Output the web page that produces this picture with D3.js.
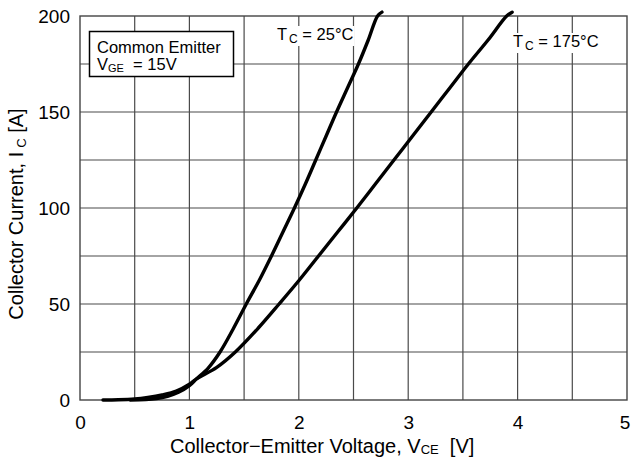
<!DOCTYPE html>
<html><head><meta charset="utf-8">
<script src="https://cdn.jsdelivr.net/npm/d3@7"></script>
<style>
html,body{margin:0;padding:0;background:#fff;}
svg text{font-family:"Liberation Sans",Arial,Helvetica,sans-serif;fill:#000;}
</style></head>
<body>
<svg id="chart" width="631" height="464"></svg>
<script>
// Data
const xTicks = [0, 1, 2, 3, 4, 5];
const yTicks = [0, 50, 100, 150, 200];
const xGrid = [0.5, 1, 1.5, 2, 2.5, 3, 3.5, 4, 4.5];
const yGrid = [25, 50, 75, 100, 125, 150, 175];

const t25V = [0.46, 0.6, 0.7, 0.8, 0.9, 1.0, 1.065, 1.17, 1.28, 1.4, 1.52, 1.64, 1.75, 1.855, 1.96, 2.06, 2.155, 2.25, 2.345, 2.445, 2.545, 2.635, 2.72, 2.76];
const t25I = [0, 0.2, 0.7, 1.9, 4.0, 7.5, 11, 16.5, 25, 37, 50, 62.5, 75, 87.5, 100, 112.5, 125, 137.5, 150, 162.5, 175, 187.5, 200, 202];

const t175V = [0.21, 0.35, 0.5, 0.62, 0.75, 0.88, 1.0, 1.065, 1.25, 1.42, 1.63, 1.82, 2.005, 2.18, 2.355, 2.53, 2.7, 2.87, 3.04, 3.21, 3.38, 3.55, 3.73, 3.9, 3.95];
const t175I = [0, 0.1, 0.5, 1.3, 2.6, 4.6, 8.2, 11, 17, 25, 37.5, 50, 62.5, 75, 87.5, 100, 112.5, 125, 137.5, 150, 162.5, 175, 187.5, 200, 202];

const svg = d3.select("#chart");
const L = 80, R = 627, T = 16, B = 400;
const x = d3.scaleLinear().domain([0, 5]).range([L, R]);
const y = d3.scaleLinear().domain([0, 200]).range([B, T]);

// grid
const grid = svg.append("g").attr("stroke", "#4a4a4a").attr("stroke-width", 1.2);
grid.selectAll("line.v").data(xGrid).join("line")
  .attr("x1", d => x(d)).attr("x2", d => x(d)).attr("y1", T).attr("y2", B);
grid.selectAll("line.h").data(yGrid).join("line")
  .attr("x1", L).attr("x2", R).attr("y1", d => y(d)).attr("y2", d => y(d));

// border
svg.append("rect").attr("x", L).attr("y", T).attr("width", R - L).attr("height", B - T)
  .attr("fill", "none").attr("stroke", "#444").attr("stroke-width", 1.4);

// axes (labels only)
const xAxis = d3.axisBottom(x).tickValues(xTicks).tickSize(0).tickPadding(16).tickFormat(d3.format("d"));
const gx = svg.append("g").attr("transform", `translate(0,${B})`).call(xAxis);
gx.select(".domain").remove();
gx.selectAll("text").attr("font-size", 19).attr("font-family", "Liberation Sans, Arial, sans-serif")
  .attr("dx", d => d === 5 ? -2.5 : 0);

const yAxis = d3.axisLeft(y).tickValues(yTicks).tickSize(0).tickPadding(10).tickFormat(d3.format("d"));
const gy = svg.append("g").attr("transform", `translate(${L},0)`).call(yAxis);
gy.select(".domain").remove();
gy.selectAll("text").attr("font-size", 19).attr("font-family", "Liberation Sans, Arial, sans-serif");

// curves
const line = d3.line().x(d => x(d[0])).y(d => y(d[1])).curve(d3.curveCatmullRom.alpha(0.5));
const series = [d3.zip(t25V, t25I), d3.zip(t175V, t175I)];
svg.append("g").selectAll("path").data(series).join("path")
  .attr("d", line).attr("fill", "none").attr("stroke", "#000")
  .attr("stroke-width", 3.4).attr("stroke-linecap", "round").attr("stroke-linejoin", "round");

// legend box
svg.append("rect").attr("x", 89.5).attr("y", 31.5).attr("width", 144).attr("height", 45)
  .attr("fill", "#fff").attr("stroke", "#000").attr("stroke-width", 1.5);
svg.append("text").attr("x", 97).attr("y", 53).attr("font-size", 16.5).text("Common Emitter");
const vt = svg.append("text").attr("x", 97).attr("y", 70).attr("font-size", 16.5).attr("xml:space", "preserve");
vt.append("tspan").text("V");
vt.append("tspan").attr("font-size", 11).attr("dy", 2).text("GE");
vt.append("tspan").attr("dy", -2).text("  = 15V");

// annotations
function tcLabel(xx, yy, val) {
  const t = svg.append("text").attr("x", xx).attr("y", yy).attr("font-size", 16.5).attr("xml:space", "preserve");
  t.append("tspan").text("T");
  t.append("tspan").attr("font-size", 12).attr("dy", 3).attr("dx", 2).text("C");
  t.append("tspan").attr("dy", -3).text(" = " + val + "\u00B0C");
  const bb = t.node().getBBox();
  svg.insert("rect", () => t.node()).attr("x", bb.x - 1).attr("y", bb.y + 1).attr("width", bb.width + 2).attr("height", bb.height - 1).attr("fill", "#fff");
}
tcLabel(277, 40, "25");
tcLabel(513, 47, "175");

// axis titles
const xl = svg.append("text").attr("x", 170).attr("y", 453).attr("font-size", 20).attr("xml:space", "preserve");
xl.append("tspan").text("Collector\u2212Emitter Voltage, V");
xl.append("tspan").attr("font-size", 13).attr("dy", 1).text("CE");
xl.append("tspan").attr("dy", -1).text("  [V]");

const yl = svg.append("text").attr("transform", `translate(23,${(T + B) / 2 + 6}) rotate(-90)`)
  .attr("text-anchor", "middle").attr("font-size", 20).attr("xml:space", "preserve");
yl.append("tspan").text("Collector Current, I");
yl.append("tspan").attr("font-size", 13).attr("dy", 3).attr("dx", 4).text("C");
yl.append("tspan").attr("dy", -3).text(" [A]");
</script>
</body></html>
